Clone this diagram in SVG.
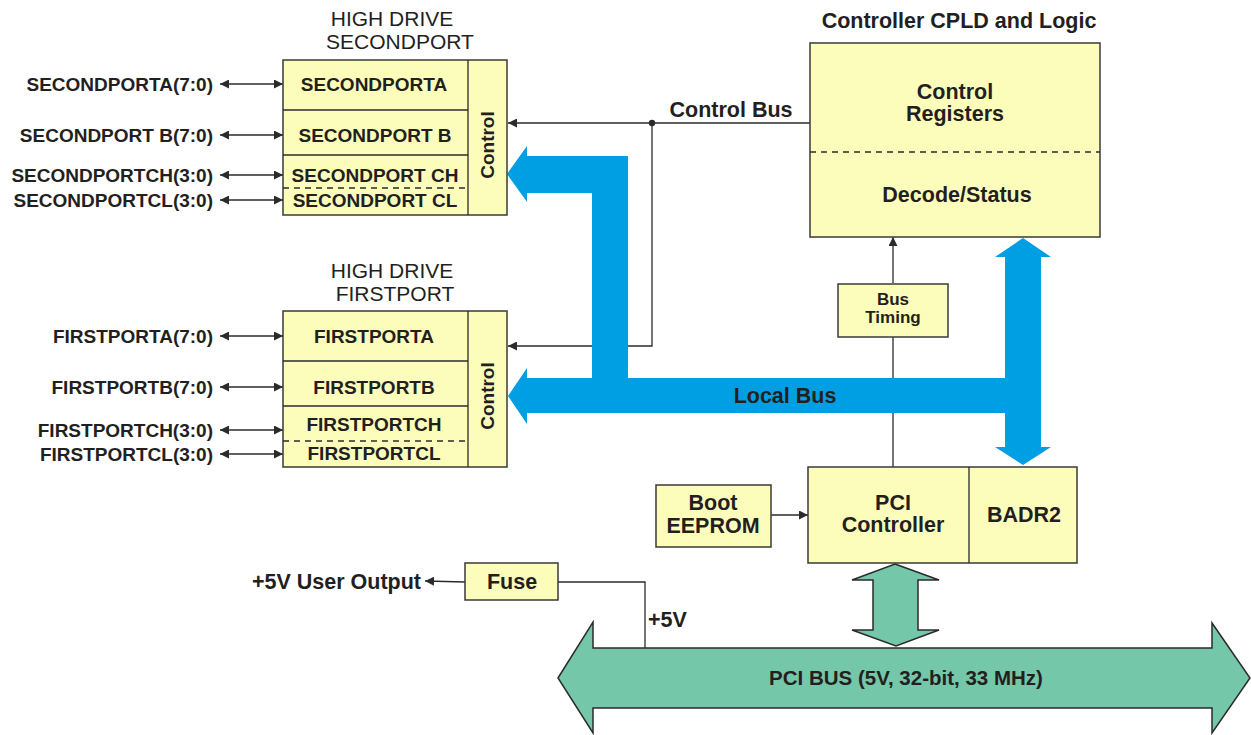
<svg xmlns="http://www.w3.org/2000/svg" width="1251" height="735" viewBox="0 0 1251 735">
<defs>
<style>
text{font-family:"Liberation Sans",Arial,sans-serif;fill:#231f20;font-weight:bold}
.reg{font-weight:normal;font-size:21px}
.port{font-size:19px}
.lbl{font-size:21.5px}
.box{fill:#fdfdbb;stroke:#3a3a3a;stroke-width:1.5}
.ln{fill:none;stroke:#2b2b2b;stroke-width:1.3}
.dash{fill:none;stroke:#2b2b2b;stroke-width:1.3;stroke-dasharray:6,5}
.blue{fill:#009fe3}
.green{fill:#74c7a8;stroke:#2b2b2b;stroke-width:1.5}
</style>
<marker id="ah" viewBox="0 0 10 10" refX="10" refY="5" markerWidth="9" markerHeight="9" markerUnits="userSpaceOnUse" orient="auto-start-reverse">
<path d="M0,0 L10,5 L0,10 z" fill="#2b2b2b"/>
</marker>
</defs>

<g id="connectors">
<line class="ln" x1="220" y1="84" x2="283" y2="84" marker-start="url(#ah)" marker-end="url(#ah)"/>
<line class="ln" x1="220" y1="135" x2="283" y2="135" marker-start="url(#ah)" marker-end="url(#ah)"/>
<line class="ln" x1="220" y1="175" x2="283" y2="175" marker-start="url(#ah)" marker-end="url(#ah)"/>
<line class="ln" x1="220" y1="200" x2="283" y2="200" marker-start="url(#ah)" marker-end="url(#ah)"/>
<line class="ln" x1="220" y1="336" x2="283" y2="336" marker-start="url(#ah)" marker-end="url(#ah)"/>
<line class="ln" x1="220" y1="387" x2="283" y2="387" marker-start="url(#ah)" marker-end="url(#ah)"/>
<line class="ln" x1="220" y1="430" x2="283" y2="430" marker-start="url(#ah)" marker-end="url(#ah)"/>
<line class="ln" x1="220" y1="454" x2="283" y2="454" marker-start="url(#ah)" marker-end="url(#ah)"/>
<line class="ln" x1="810" y1="123" x2="508" y2="123" marker-end="url(#ah)"/>
<polyline class="ln" points="652,123 652,346 508,346" marker-end="url(#ah)"/>
<circle cx="652" cy="123" r="3.2" fill="#2b2b2b"/>
<line class="ln" x1="893" y1="283" x2="893" y2="237" marker-end="url(#ah)"/>
<line class="ln" x1="893" y1="337" x2="893" y2="467"/>
<line class="ln" x1="771" y1="515" x2="808" y2="515" marker-end="url(#ah)"/>
<line class="ln" x1="465" y1="582" x2="425" y2="581" marker-end="url(#ah)"/>
<polyline class="ln" points="558,582 645,582 645,648"/>
<path class="blue" d="M508,396 L527,368 L527,378 L592,378 L592,193 L527,193 L527,202 L507,174 L527,146 L527,156 L628,156 L628,378 L1005,378 L1005,257 L995,257 L1023,238 L1051,257 L1041,257 L1041,447 L1051,447 L1023,465 L995,447 L1005,447 L1005,413 L527,413 L527,424 Z"/>
<text class="lbl" x="785" y="403" text-anchor="middle">Local Bus</text>
<text class="lbl" x="731" y="117" text-anchor="middle">Control Bus</text>
<path class="green" d="M895,564 L939,580 L918,580 L918,630 L939,630 L896,646 L852,630 L873,630 L873,580 L852,580 Z"/>
<text class="lbl" x="648" y="627">+5V</text>
</g>

<g id="pcibus">
<path class="green" d="M558,678 L593,622 L593,648 L1212,648 L1212,623 L1250,678 L1212,733 L1212,708 L593,708 L593,733 Z"/>
<text x="906" y="685" text-anchor="middle" style="font-size:20.5px">PCI BUS (5V, 32-bit, 33 MHz)</text>
</g>

<g id="secondport">
<text class="reg" x="392" y="26" text-anchor="middle">HIGH DRIVE</text>
<text class="reg" x="400" y="49" text-anchor="middle">SECONDPORT</text>
<rect class="box" x="283" y="60" width="224" height="155"/>
<line class="ln" x1="468" y1="60" x2="468" y2="215"/>
<line class="ln" x1="283" y1="110" x2="468" y2="110"/>
<line class="ln" x1="283" y1="155" x2="468" y2="155"/>
<line class="dash" x1="283" y1="188" x2="468" y2="188"/>
<text class="port" x="374" y="91" text-anchor="middle">SECONDPORTA</text>
<text class="port" x="375" y="142" text-anchor="middle">SECONDPORT B</text>
<text class="port" x="375" y="182" text-anchor="middle">SECONDPORT CH</text>
<text class="port" x="375" y="207" text-anchor="middle">SECONDPORT CL</text>
<text x="494" y="145" text-anchor="middle" transform="rotate(-90 494 145)" style="font-size:19px">Control</text>
<text class="port" x="213" y="91" text-anchor="end">SECONDPORTA(7:0)</text>
<text class="port" x="213" y="142" text-anchor="end">SECONDPORT B(7:0)</text>
<text class="port" x="213" y="182" text-anchor="end">SECONDPORTCH(3:0)</text>
<text class="port" x="213" y="207" text-anchor="end">SECONDPORTCL(3:0)</text>
</g>

<g id="firstport">
<text class="reg" x="392" y="278" text-anchor="middle">HIGH DRIVE</text>
<text class="reg" x="395" y="301" text-anchor="middle">FIRSTPORT</text>
<rect class="box" x="283" y="311" width="224" height="156"/>
<line class="ln" x1="468" y1="311" x2="468" y2="467"/>
<line class="ln" x1="283" y1="361" x2="468" y2="361"/>
<line class="ln" x1="283" y1="406" x2="468" y2="406"/>
<line class="dash" x1="283" y1="441" x2="468" y2="441"/>
<text class="port" x="374" y="343" text-anchor="middle">FIRSTPORTA</text>
<text class="port" x="374" y="394" text-anchor="middle">FIRSTPORTB</text>
<text class="port" x="374" y="431" text-anchor="middle">FIRSTPORTCH</text>
<text class="port" x="374" y="460" text-anchor="middle">FIRSTPORTCL</text>
<text x="494" y="396" text-anchor="middle" transform="rotate(-90 494 396)" style="font-size:19px">Control</text>
<text class="port" x="213" y="343" text-anchor="end">FIRSTPORTA(7:0)</text>
<text class="port" x="213" y="394" text-anchor="end">FIRSTPORTB(7:0)</text>
<text class="port" x="213" y="437" text-anchor="end">FIRSTPORTCH(3:0)</text>
<text class="port" x="213" y="461" text-anchor="end">FIRSTPORTCL(3:0)</text>
</g>

<g id="cpld">
<text class="lbl" x="959" y="28" text-anchor="middle">Controller CPLD and Logic</text>
<rect class="box" x="810" y="43" width="290" height="194"/>
<line class="dash" x1="810" y1="152" x2="1100" y2="152"/>
<text class="lbl" x="955" y="99" text-anchor="middle">Control</text>
<text class="lbl" x="955" y="121" text-anchor="middle">Registers</text>
<text class="lbl" x="957" y="202" text-anchor="middle">Decode/Status</text>
</g>

<g id="bustiming">
<rect class="box" x="838" y="284" width="110" height="53"/>
<text x="893" y="305" text-anchor="middle" style="font-size:17px">Bus</text>
<text x="893" y="323" text-anchor="middle" style="font-size:17px">Timing</text>
</g>

<g id="pcicontroller">
<rect class="box" x="808" y="467" width="269" height="96"/>
<line class="ln" x1="969" y1="467" x2="969" y2="563"/>
<text class="lbl" x="893" y="510" text-anchor="middle">PCI</text>
<text class="lbl" x="893" y="532" text-anchor="middle">Controller</text>
<text class="lbl" x="1024" y="522" text-anchor="middle">BADR2</text>
</g>

<g id="bootEEPROM">
<rect class="box" x="656" y="485" width="115" height="62"/>
<text class="lbl" x="713" y="510" text-anchor="middle">Boot</text>
<text class="lbl" x="713" y="533" text-anchor="middle">EEPROM</text>
</g>

<g id="fuse">
<rect class="box" x="465" y="563" width="93" height="37"/>
<text class="lbl" x="512" y="589" text-anchor="middle">Fuse</text>
</g>

<g id="userOutput">
<text class="lbl" x="421" y="589" text-anchor="end">+5V User Output</text>
</g>
</svg>
